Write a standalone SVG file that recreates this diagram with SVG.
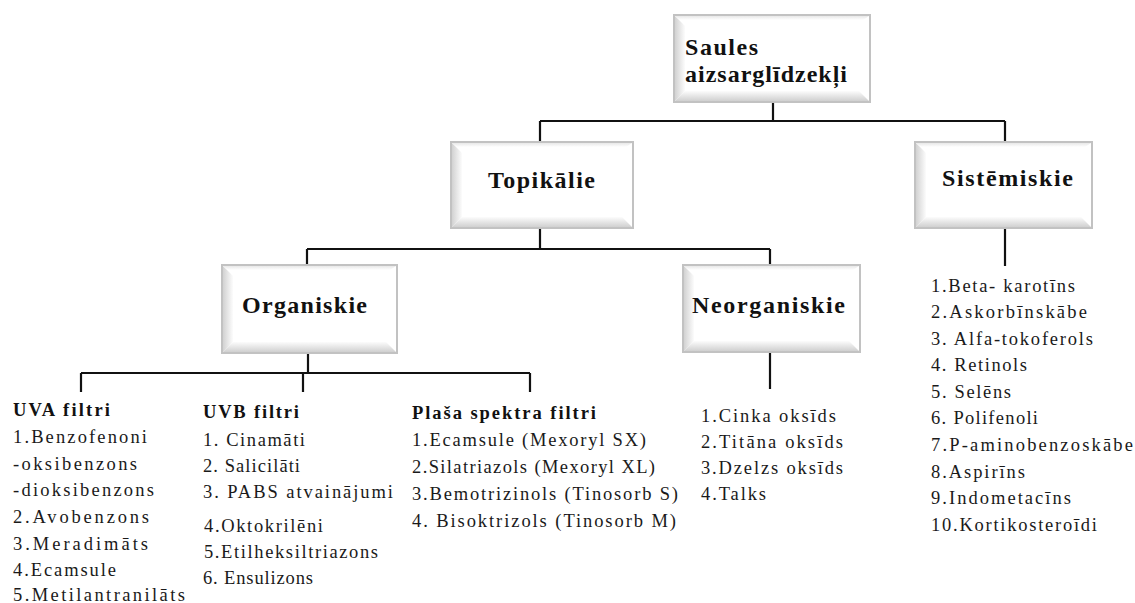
<svg xmlns="http://www.w3.org/2000/svg" width="1135" height="603" viewBox="0 0 1135 603">
<style>
.box{fill:#fff;stroke:#c2c2c2;stroke-width:2}
.bl{fill:url(#gl)}
.bb{fill:url(#gb)}
.bt{fill:url(#gt)}
.lbl{font-family:"Liberation Serif",serif;font-weight:bold;font-size:24px;fill:#111}
.hd{font-family:"Liberation Serif",serif;font-weight:bold;font-size:18.5px;fill:#111}
.it{font-family:"Liberation Serif",serif;font-size:18.5px;fill:#1a1a1a}
.con{fill:none;stroke:#111;stroke-width:2.2}
</style>
<defs>
<linearGradient id="gl" x1="0" y1="0" x2="1" y2="0"><stop offset="0" stop-color="#d2d2d2"/><stop offset="1" stop-color="#fcfcfc"/></linearGradient>
<linearGradient id="gb" x1="0" y1="0" x2="0" y2="1"><stop offset="0" stop-color="#fcfcfc"/><stop offset="1" stop-color="#d0d0d0"/></linearGradient>
<linearGradient id="gt" x1="0" y1="0" x2="0" y2="1"><stop offset="0" stop-color="#e8e8e8"/><stop offset="1" stop-color="#ffffff"/></linearGradient>
</defs>
<rect width="1135" height="603" fill="#fff"/>

<g id="connectors">
<path class="con" d="M773 102 V121 M540 121 H1005 M540 121 V142 M1005 121 V142"/>
<path class="con" d="M540 228 V249 M307 249 H770 M307 249 V265 M770 249 V265"/>
<path class="con" d="M1005 228 V266"/>
<path class="con" d="M308 353 V373 M81 373 H530 M81 373 V392 M303 373 V392 M530 373 V392"/>
<path class="con" d="M770 352 V389"/>
</g>

<g id="n-saules">
<rect class="box" x="674" y="15" width="196" height="87"/>
<polygon class="bl" points="675,16 685,26 685,91 675,101"/>
<polygon class="bb" points="675,101 685,91 859,91 869,101"/>
<polygon class="bt" points="675,16 869,16 863,20 680,20"/>
<text class="lbl" x="685" y="55" textLength="73" lengthAdjust="spacing">Saules</text>
<text class="lbl" x="685" y="82" textLength="162" lengthAdjust="spacing">aizsarglīdzekļi</text>
</g>

<g id="n-topikalie">
<rect class="box" x="451" y="142" width="182" height="86"/>
<polygon class="bl" points="452,143 462,153 462,217 452,227"/>
<polygon class="bb" points="452,227 462,217 622,217 632,227"/>
<polygon class="bt" points="452,143 632,143 626,147 457,147"/>
<text class="lbl" x="488" y="188" textLength="107" lengthAdjust="spacing">Topikālie</text>
</g>

<g id="n-sistemiskie">
<rect class="box" x="915" y="142" width="177" height="86"/>
<polygon class="bl" points="916,143 926,153 926,217 916,227"/>
<polygon class="bb" points="916,227 926,217 1081,217 1091,227"/>
<polygon class="bt" points="916,143 1091,143 1085,147 921,147"/>
<text class="lbl" x="942" y="186" textLength="131" lengthAdjust="spacing">Sistēmiskie</text>
</g>

<g id="n-organiskie">
<rect class="box" x="222" y="265" width="175" height="88"/>
<polygon class="bl" points="223,266 233,276 233,342 223,352"/>
<polygon class="bb" points="223,352 233,342 386,342 396,352"/>
<polygon class="bt" points="223,266 396,266 390,270 228,270"/>
<text class="lbl" x="242" y="313" textLength="125" lengthAdjust="spacing">Organiskie</text>
</g>

<g id="n-neorganiskie">
<rect class="box" x="683" y="265" width="177" height="87"/>
<polygon class="bl" points="684,266 694,276 694,341 684,351"/>
<polygon class="bb" points="684,351 694,341 849,341 859,351"/>
<polygon class="bt" points="684,266 859,266 853,270 689,270"/>
<text class="lbl" x="692" y="313" textLength="153" lengthAdjust="spacing">Neorganiskie</text>
</g>

<g id="l-uva">
<text class="hd" x="13" y="416" textLength="97" lengthAdjust="spacing">UVA filtri</text>
<text class="it" x="13" y="443" textLength="134" lengthAdjust="spacing">1.Benzofenoni</text>
<text class="it" x="13" y="470" textLength="124" lengthAdjust="spacing">-oksibenzons</text>
<text class="it" x="13" y="496" textLength="141" lengthAdjust="spacing">-dioksibenzons</text>
<text class="it" x="13" y="523" textLength="136" lengthAdjust="spacing">2.Avobenzons</text>
<text class="it" x="13" y="550" textLength="135" lengthAdjust="spacing">3.Meradimāts</text>
<text class="it" x="13" y="576" textLength="103" lengthAdjust="spacing">4.Ecamsule</text>
<text class="it" x="13" y="601" textLength="172" lengthAdjust="spacing">5.Metilantranilāts</text>
</g>

<g id="l-uvb">
<text class="hd" x="203" y="418" textLength="96" lengthAdjust="spacing">UVB filtri</text>
<text class="it" x="203" y="446" textLength="102" lengthAdjust="spacing">1. Cinamāti</text>
<text class="it" x="203" y="472" textLength="97" lengthAdjust="spacing">2. Salicilāti</text>
<text class="it" x="203" y="498" textLength="190" lengthAdjust="spacing">3. PABS atvainājumi</text>
<text class="it" x="204" y="532" textLength="119" lengthAdjust="spacing">4.Oktokrilēni</text>
<text class="it" x="204" y="558" textLength="174" lengthAdjust="spacing">5.Etilheksiltriazons</text>
<text class="it" x="203" y="584" textLength="110" lengthAdjust="spacing">6. Ensulizons</text>
</g>

<g id="l-plasa">
<text class="hd" x="412" y="419" textLength="184" lengthAdjust="spacing">Plaša spektra filtri</text>
<text class="it" x="412" y="446" textLength="234" lengthAdjust="spacing">1.Ecamsule (Mexoryl SX)</text>
<text class="it" x="412" y="473" textLength="243" lengthAdjust="spacing">2.Silatriazols (Mexoryl XL)</text>
<text class="it" x="412" y="500" textLength="266" lengthAdjust="spacing">3.Bemotrizinols (Tinosorb S)</text>
<text class="it" x="412" y="527" textLength="264" lengthAdjust="spacing">4. Bisoktrizols (Tinosorb M)</text>
</g>

<g id="l-neorg">
<text class="it" x="701" y="422" textLength="135" lengthAdjust="spacing">1.Cinka oksīds</text>
<text class="it" x="701" y="448" textLength="142" lengthAdjust="spacing">2.Titāna oksīds</text>
<text class="it" x="701" y="474" textLength="142" lengthAdjust="spacing">3.Dzelzs oksīds</text>
<text class="it" x="701" y="500" textLength="65" lengthAdjust="spacing">4.Talks</text>
</g>

<g id="l-sist">
<text class="it" x="931" y="292" textLength="144" lengthAdjust="spacing">1.Beta- karotīns</text>
<text class="it" x="931" y="318" textLength="156" lengthAdjust="spacing">2.Askorbīnskābe</text>
<text class="it" x="931" y="345" textLength="162" lengthAdjust="spacing">3. Alfa-tokoferols</text>
<text class="it" x="931" y="371" textLength="96" lengthAdjust="spacing">4. Retinols</text>
<text class="it" x="931" y="398" textLength="80" lengthAdjust="spacing">5. Selēns</text>
<text class="it" x="931" y="424" textLength="107" lengthAdjust="spacing">6. Polifenoli</text>
<text class="it" x="931" y="451" textLength="202" lengthAdjust="spacing">7.P-aminobenzoskābe</text>
<text class="it" x="931" y="478" textLength="94" lengthAdjust="spacing">8.Aspirīns</text>
<text class="it" x="931" y="504" textLength="140" lengthAdjust="spacing">9.Indometacīns</text>
<text class="it" x="931" y="531" textLength="166" lengthAdjust="spacing">10.Kortikosteroīdi</text>
</g>
</svg>
